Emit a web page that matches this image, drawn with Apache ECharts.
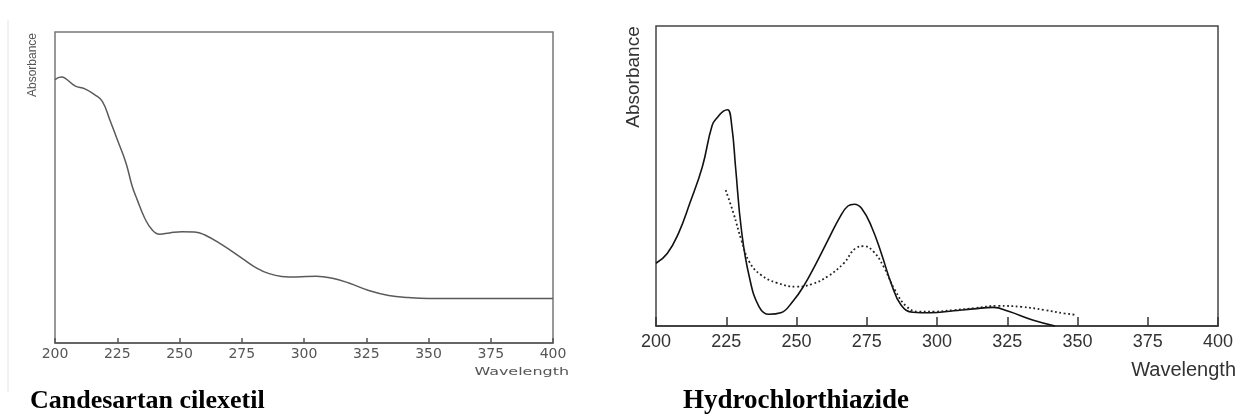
<!DOCTYPE html>
<html>
<head>
<meta charset="utf-8">
<script src="https://cdn.jsdelivr.net/npm/echarts@6/dist/echarts.min.js"></script>
<style>
  html, body { margin: 0; padding: 0; background: #ffffff; }
  #chart { width: 1238px; height: 414px; }
</style>
</head>
<body>
<div id="chart"></div>
<script>
// ---- Data (absorbance in arbitrary units 0-100) ----
const xTicks = [200, 225, 250, 275, 300, 325, 350, 375, 400];

// Candesartan cilexetil
const candWavelength = [200, 202.5, 204, 208, 212, 216, 219, 222, 225, 228.5, 231, 233, 236, 239, 242, 246, 251, 256, 260, 267, 275, 281, 286, 291, 297, 305, 311, 318, 326, 334, 342, 350, 375, 400];
const candAbsorbance = [84.7, 85.5, 85.2, 82.7, 81.7, 79.8, 77.7, 71.8, 65.4, 57.9, 50.4, 46.1, 40.2, 36.4, 35.0, 35.4, 35.8, 35.7, 34.8, 31.6, 27.3, 24.1, 22.3, 21.4, 21.2, 21.5, 20.9, 19.3, 16.9, 15.3, 14.6, 14.3, 14.3, 14.3];

// Hydrochlorthiazide - solid curve
const hctzWavelength = [200, 204, 208, 212, 216.5, 220, 222, 224, 225.5, 227, 228.3, 230.4, 233.2, 236.7, 240.2, 244.4, 248.6, 252.8, 257, 261.2, 265.5, 268.3, 270.6, 273.2, 276.7, 280.2, 283.7, 287.2, 291.4, 297.7, 306, 313, 320, 325.7, 334, 342];
const hctzAbsorbance = [20.9, 24.2, 30.9, 40.8, 53.1, 66.9, 69.7, 71.6, 72.1, 66.4, 53.1, 32.0, 16.4, 6.4, 3.9, 4.4, 8.1, 13.7, 20.9, 28.6, 36.4, 40.0, 40.6, 39.2, 33.1, 24.2, 14.2, 7.0, 4.6, 4.4, 5.1, 5.7, 6.2, 4.8, 2.0, 0];

// Hydrochlorthiazide - dotted curve
const hctzDotWavelength = [224.8, 227.6, 230.4, 233.2, 237.4, 243, 250, 255.6, 261.2, 266.8, 271, 274, 277.4, 281, 285, 289.3, 293.5, 299, 306, 313, 321.6, 330, 338.4, 345.3, 349.5];
const hctzDotAbsorbance = [45.3, 37.5, 28.6, 21.4, 17.0, 14.4, 13.1, 14.0, 16.6, 20.9, 25.9, 26.6, 24.8, 19.8, 12.0, 6.4, 4.8, 4.8, 5.3, 5.9, 6.7, 6.4, 5.3, 4.2, 3.7];

const titles = ['Candesartan cilexetil', 'Hydrochlorthiazide'];
const xName = 'Wavelength';
const yName = 'Absorbance';

function pairs(xs, ys) { return xs.map((x, i) => [x, ys[i]]); }

const chart = echarts.init(document.getElementById('chart'), null, { renderer: 'canvas' });

function xAxisFor(gridIndex, color, fontSize, fontFamily, tickLen, margin) {
  return {
    type: 'value', gridIndex: gridIndex,
    min: xTicks[0], max: xTicks[xTicks.length - 1], interval: xTicks[1] - xTicks[0],
    axisLine: { show: true, lineStyle: { color: color, width: 1.5 } },
    axisTick: { show: true, inside: true, length: tickLen, lineStyle: { color: color, width: 1.5 } },
    axisLabel: { color: color, fontSize: fontSize, fontFamily: fontFamily, margin: margin, showMinLabel: true, showMaxLabel: true },
    splitLine: { show: false }
  };
}

const option = {
  backgroundColor: '#ffffff',
  animation: false,
  grid: [
    { left: 55, right: 685, top: 32, bottom: 71, show: true, borderColor: '#777', borderWidth: 1.5, backgroundColor: 'transparent' },
    { left: 656, right: 20, top: 26, bottom: 88, show: true, borderColor: '#444', borderWidth: 1.5, backgroundColor: 'transparent' }
  ],
  xAxis: [
    xAxisFor(0, '#555', 14, 'DejaVu Sans', 5, 4),
    xAxisFor(1, '#333', 18, 'Liberation Sans', 9, 7)
  ],
  yAxis: [
    { type: 'value', gridIndex: 0, min: 0, max: 100, show: false },
    { type: 'value', gridIndex: 1, min: 0, max: 100, show: false }
  ],
  series: [
    {
      name: titles[0], type: 'line', xAxisIndex: 0, yAxisIndex: 0,
      data: pairs(candWavelength, candAbsorbance),
      smooth: 0.45, showSymbol: false, clip: true,
      lineStyle: { color: '#5a5a5a', width: 1.5 }
    },
    {
      name: titles[1], type: 'line', xAxisIndex: 1, yAxisIndex: 1,
      data: pairs(hctzWavelength, hctzAbsorbance),
      smooth: 0.45, showSymbol: false, clip: true,
      lineStyle: { color: '#111', width: 1.6 }
    },
    {
      name: titles[1] + ' (dotted)', type: 'line', xAxisIndex: 1, yAxisIndex: 1,
      data: pairs(hctzDotWavelength, hctzDotAbsorbance),
      smooth: 0.45, showSymbol: false, clip: true,
      lineStyle: { color: '#222', width: 1.8, type: [1.8, 2.6] }
    }
  ],
  graphic: [
    { type: 'line', shape: { x1: 8, y1: 20, x2: 8, y2: 392 }, style: { stroke: '#e4e4e4', lineWidth: 1 }, silent: true },
    { type: 'text', x: 33, y: 65, rotation: Math.PI / 2,
      style: { text: yName, fill: '#555', font: '12px "Liberation Sans"', textAlign: 'center', textVerticalAlign: 'middle' } },
    { type: 'text', x: 569, y: 372, scaleX: 1.45,
      style: { text: xName, fill: '#555', font: '11px "DejaVu Sans"', textAlign: 'right', textVerticalAlign: 'middle' } },
    { type: 'text', x: 30, y: 401,
      style: { text: titles[0], fill: '#000', font: 'bold 26px "Liberation Serif"', textAlign: 'left', textVerticalAlign: 'middle' } },
    { type: 'text', x: 634, y: 77, rotation: Math.PI / 2,
      style: { text: yName, fill: '#333', font: '19px "Liberation Sans"', textAlign: 'center', textVerticalAlign: 'middle' } },
    { type: 'text', x: 1236, y: 370,
      style: { text: xName, fill: '#333', font: '20px "Liberation Sans"', textAlign: 'right', textVerticalAlign: 'middle' } },
    { type: 'text', x: 683, y: 401,
      style: { text: titles[1], fill: '#000', font: 'bold 27px "Liberation Serif"', textAlign: 'left', textVerticalAlign: 'middle' } }
  ]
};
chart.setOption(option);
</script>
</body>
</html>
